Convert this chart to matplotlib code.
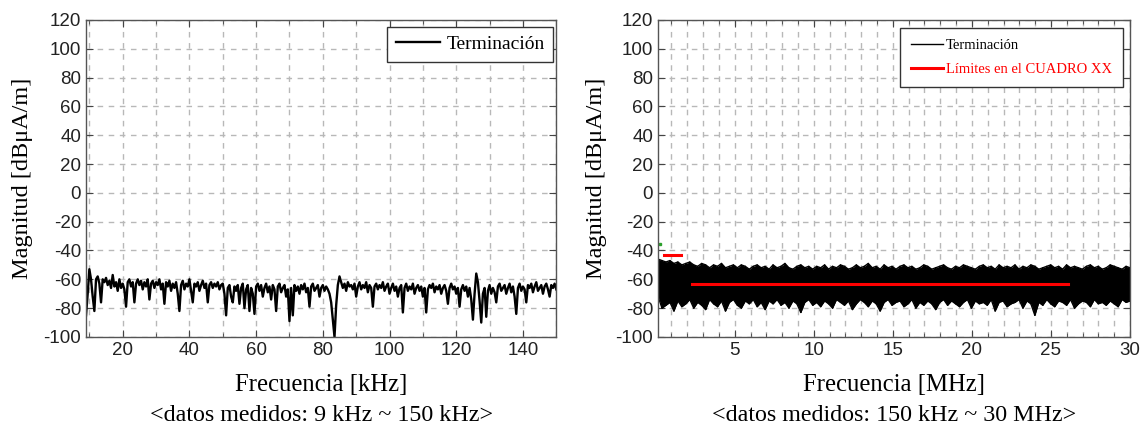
import numpy as np
import matplotlib.pyplot as plt
from matplotlib.ticker import MultipleLocator

SERIF = ['Liberation Serif', 'DejaVu Serif']
SANS = ['Liberation Sans', 'DejaVu Sans']
plt.rcParams['font.family'] = SANS
plt.rcParams['axes.unicode_minus'] = False

# --- 9 kHz ~ 150 kHz, termination, 0.5 kHz steps (dBuA/m) ---
lf_mag = [
    -85, -70, -53, -60, -72, -82, -60, -58, -63, -76, -60, -62, -59, -64, -61, -66, -57, -65, -62, -68,
    -60, -66, -63, -67, -79, -62, -60, -65, -62, -76, -63, -60, -64, -61, -67, -62, -65, -60, -74, -63,
    -61, -66, -62, -64, -60, -67, -63, -77, -62, -65, -61, -68, -63, -66, -62, -70, -82, -64, -61, -67,
    -63, -65, -60, -68, -76, -63, -65, -62, -68, -64, -61, -66, -63, -76, -64, -62, -66, -63, -65, -62,
    -67, -64, -63, -70, -85, -66, -64, -72, -76, -65, -68, -64, -77, -66, -63, -80, -67, -64, -82, -66,
    -70, -84, -65, -63, -68, -64, -72, -66, -63, -69, -65, -74, -64, -67, -82, -65, -63, -69, -66, -64,
    -72, -67, -89, -66, -85, -64, -68, -65, -70, -64, -67, -63, -69, -66, -79, -65, -63, -68, -66, -64,
    -72, -66, -64, -68, -65, -67, -70, -76, -88, -100, -78, -64, -58, -62, -66, -63, -68, -62, -65, -64,
    -67, -63, -72, -65, -62, -67, -64, -66, -62, -69, -64, -66, -79, -65, -63, -67, -64, -66, -62, -68,
    -65, -63, -70, -66, -63, -68, -65, -72, -66, -64, -83, -66, -63, -68, -65, -67, -63, -70, -66, -64,
    -68, -65, -72, -66, -83, -67, -64, -66, -63, -69, -65, -67, -64, -70, -66, -64, -68, -77, -66, -63,
    -67, -65, -70, -66, -79, -67, -64, -68, -65, -72, -66, -74, -88, -70, -56, -62, -75, -90, -70, -66,
    -86, -68, -64, -70, -66, -69, -76, -65, -63, -68, -66, -64, -70, -66, -63, -69, -65, -72, -84, -66,
    -63, -68, -65, -67, -76, -64, -66, -63, -69, -65, -62, -68, -66, -64, -70, -65, -63, -67, -72, -64,
    -66, -63, -67,
]
lf_freq = np.linspace(9, 150, len(lf_mag))

# --- 150 kHz ~ 30 MHz, termination: envelope of the measured trace (dBuA/m) ---
hf_upper = [
    -46, -47, -48, -47, -49, -48, -50, -49, -48, -50,
    -51, -49, -50, -52, -50, -51, -49, -52, -51, -50,
    -52, -50, -51, -53, -51, -50, -52, -51, -53, -50,
    -52, -51, -49, -52, -53, -51, -50, -52, -51, -53,
    -51, -52, -50, -53, -51, -52, -50, -51, -53, -52,
    -50, -52, -51, -49, -52, -51, -53, -50, -52, -51,
    -53, -51, -50, -52, -51, -53, -52, -50, -51, -53,
    -52, -51, -50, -52, -53, -51, -52, -50, -51, -52,
    -53, -51, -50, -52, -51, -53, -50, -52, -51, -52,
    -50, -53, -51, -52, -50, -51, -53, -52, -51, -50,
    -52, -51, -53, -50, -52, -51, -52, -53, -51, -50,
    -52, -51, -53, -52, -50, -51, -52, -53, -51, -52,
]
hf_lower = [
    -72, -80, -78, -76, -82, -75, -79, -77, -74, -80,
    -76, -78, -81, -74, -77, -79, -75, -82, -76, -74,
    -78, -80, -75, -77, -74, -79, -76, -81, -75, -77,
    -74, -78, -76, -80, -75, -77, -83, -76, -74, -78,
    -76, -79, -75, -77, -80, -74, -76, -78, -75, -81,
    -77, -74, -76, -79, -75, -77, -82, -76, -74, -78,
    -76, -75, -79, -77, -74, -80, -76, -78, -75, -77,
    -81, -76, -74, -78, -75, -77, -79, -76, -74, -80,
    -75, -77, -76, -78, -74, -82, -76, -75, -79, -77,
    -76, -74, -80, -75, -77, -85, -76, -78, -74, -77,
    -79, -75, -76, -78, -74, -80, -77, -75, -76, -79,
    -74, -77, -76, -78, -75, -77, -79, -74, -76, -75,
]
hf_freq = np.linspace(0.15, 30, len(hf_upper))

# limits (CUADRO XX): start, end [MHz] and level [dBuA/m]
lim_start = [0.5, 2.3]
lim_end = [1.6, 26.1]
lim_level = [-43, -63]

fig = plt.figure(figsize=(11.47, 4.32), dpi=100)
axL = fig.add_axes([0.075, 0.22, 0.41, 0.734])
axR = fig.add_axes([0.5737, 0.22, 0.4115, 0.734])

GRID = dict(ls=(0, (4, 4)), color='#b8b8b8', lw=1.0)


def style(ax, xmaj, xmin):
    ax.set_ylim(-100, 120)
    ax.yaxis.set_major_locator(MultipleLocator(20))
    ax.xaxis.set_major_locator(MultipleLocator(xmaj))
    ax.xaxis.set_minor_locator(MultipleLocator(xmin))
    ax.grid(True, which='both', axis='x', **GRID)
    ax.grid(True, which='major', axis='y', **GRID)
    ax.set_axisbelow(True)
    ax.tick_params(which='both', direction='in', top=True, right=True,
                   labelsize=13.5, color='#444', labelcolor='#222')
    ax.tick_params(which='major', length=5)
    ax.tick_params(which='minor', length=3)
    for s in ax.spines.values():
        s.set_color('#555')
        s.set_linewidth(1.0)


# left panel
axL.plot(lf_freq, lf_mag, color='black', lw=1.7, label='Terminación')
axL.set_xlim(9, 150)
style(axL, 20, 10)
legL = axL.legend(loc='upper right', prop={'family': SERIF, 'size': 14},
                  fancybox=False, edgecolor='#333', framealpha=1,
                  handlelength=2.3, handletextpad=0.3, borderpad=0.45,
                  borderaxespad=0, bbox_to_anchor=(0.9936, 0.978))
legL.get_frame().set_linewidth(1.0)

# right panel: dense trace drawn as its envelope, traced up and down
zig_f = np.repeat(hf_freq, 2)
zig_v = np.column_stack((hf_upper, hf_lower)).ravel()
axR.fill_between(hf_freq, hf_lower, hf_upper, color='black', lw=0)
axR.plot(zig_f, zig_v, color='black', lw=1.0)
axR.plot(hf_freq, hf_upper, color='black', lw=1.0)
axR.plot(hf_freq, hf_lower, color='black', lw=1.0, label='Terminación')
for i, (a, b, v) in enumerate(zip(lim_start, lim_end, lim_level)):
    axR.plot([a, b], [v, v], color='red', lw=2.2,
             label='Límites en el CUADRO XX' if i == 0 else None)
axR.plot([0.25], [-35.5], marker='s', ms=2, color='#2ca02c', lw=0)
axR.set_xlim(0.15, 30)
style(axR, 5, 1)
legR = axR.legend(loc='upper right', prop={'family': SERIF, 'size': 10.5},
                  fancybox=False, edgecolor='#333', framealpha=1,
                  handlelength=2.2, handletextpad=0.2, borderpad=0.75,
                  labelspacing=0.75, borderaxespad=0,
                  bbox_to_anchor=(0.985, 0.975))
legR.get_frame().set_linewidth(1.0)
legR.get_texts()[1].set_color('red')

# axis titles
for ax, xl, sub, ylx in [
    (axL, 'Frecuencia [kHz]', '<datos medidos: 9 kHz ~ 150 kHz>', 0.02),
    (axR, 'Frecuencia [MHz]', '<datos medidos: 150 kHz ~ 30 MHz>', 0.52),
]:
    pos = ax.get_position()
    cx = pos.x0 + pos.width / 2
    fig.text(cx, 0.109, xl, ha='center', va='center', family=SERIF, size=17.8)
    fig.text(cx, 0.039, sub, ha='center', va='center', family=SERIF, size=17.3)
    fig.text(ylx, pos.y0 + pos.height / 2, 'Magnitud [dBμA/m]', rotation=90,
             ha='center', va='center', family=SERIF, size=17.5)

fig.savefig('out.png', dpi=100)
